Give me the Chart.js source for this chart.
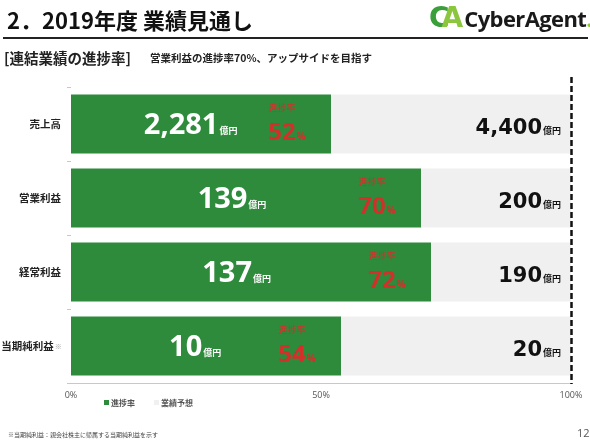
<!DOCTYPE html>
<html>
<head>
<meta charset="utf-8">
<script src="https://cdn.jsdelivr.net/npm/chart.js@4/dist/chart.umd.min.js"></script>
<style>
body { margin: 0; background: #fff; font-family: "Noto Sans CJK JP", "Noto Sans", sans-serif; }
#page { position: relative; width: 590px; height: 441px; overflow: hidden; background: #fff; }
#chartBox { position: absolute; left: 0; top: 0; width: 590px; height: 441px; }
.title { position: absolute; left: 7px; top: 3px; font-size: 22px; font-weight: bold; color: #111; white-space: nowrap; }
.rule { position: absolute; left: 3px; top: 37px; width: 585px; height: 2px; background: #222; }
.sub1 { position: absolute; left: 4px; top: 47px; font-size: 14.5px; font-weight: bold; color: #222; white-space: nowrap; }
.sub2 { position: absolute; left: 150px; top: 50px; font-size: 10.5px; font-weight: bold; color: #222; white-space: nowrap; }
.logo { position: absolute; left: 429px; top: 1px; white-space: nowrap; }
.logo .c { font-family: "DejaVu Sans"; font-weight: bold; font-size: 28px; color: #3a9e3a; letter-spacing: -8px; }
.logo .a { font-family: "DejaVu Sans"; font-weight: bold; font-size: 28px; color: #8cc63f; }
.logo .t { font-family: "Open Sans", sans-serif; font-weight: bold; font-size: 22px; color: #1a1a1a; letter-spacing: -0.6px; margin-left: 1px; }
.logo .d { font-family: "Open Sans", sans-serif; font-weight: bold; font-size: 22px; color: #8cc63f; }
.legend { position: absolute; top: 397px; font-size: 8px; font-weight: bold; color: #555; white-space: nowrap; }
.legend i { display: inline-block; width: 5px; height: 5px; margin-right: 2px; vertical-align: 1px; }
.foot { position: absolute; left: 8px; top: 430px; font-size: 6px; color: #444; white-space: nowrap; }
.pno { position: absolute; left: 577px; top: 425px; font-size: 11px; color: #555; font-family: "Open Sans", sans-serif; }
</style>
</head>
<body>
<div id="page">
  <div id="chartBox"><canvas id="progressChart"></canvas></div>
  <div class="title">2．2019年度 業績見通し</div>
  <div class="logo"><span class="c">C</span><span class="a">A</span><span class="t">CyberAgent</span><span class="d">.</span></div>
  <div class="rule"></div>
  <div class="sub1">[連結業績の進捗率]</div>
  <div class="sub2">営業利益の進捗率70%、アップサイドを目指す</div>
  <div class="legend" style="left:104px"><i style="background:#2e8b3c"></i>進捗率</div>
  <div class="legend" style="left:154px"><i style="background:#f0f0f0"></i>業績予想</div>
  <div class="foot">※当期純利益：親会社株主に帰属する当期純利益を示す</div>
  <div class="pno">12</div>
</div>
<script>
// 連結業績 (億円)
const categories = ['売上高', '営業利益', '経常利益', '当期純利益※'];
const actualValues = [2281, 139, 137, 10];
const forecastValues = [4400, 200, 190, 20];
const progressRates = [52, 70, 72, 54];
const remainRates = progressRates.map(r => 100 - r);
const xTicks = [0, 50, 100];

const GREEN = '#2e8b3c';
const GRAY = '#f0f0f0';
const RED = '#d3302a';
const JP = '"Noto Sans CJK JP", sans-serif';
const WHITE_FONT = 'bold 29px "Open Sans", sans-serif';
const RED_FONT = 'bold 24px "Open Sans", sans-serif';
const BLACK_FONT = 'bold 21px "DejaVu Sans", sans-serif';
const NOTE_GAP = '   ';

function fmt(v) {
    return v.toLocaleString('en-US');
}

// big number + small unit on one baseline
function drawPair(ctx, big, bigFont, small, smallFont, x, y, color, align) {
    ctx.font = bigFont;
    const wBig = ctx.measureText(big).width;
    ctx.font = smallFont;
    const wSmall = ctx.measureText(small).width;
    const total = wBig + 1 + wSmall;
    let left = x;
    if (align === 'center') left = x - total / 2;
    if (align === 'right') left = x - total;
    ctx.fillStyle = color;
    ctx.textAlign = 'left';
    ctx.textBaseline = 'alphabetic';
    ctx.font = bigFont;
    ctx.fillText(big, left, y);
    ctx.font = smallFont;
    ctx.fillText(small, left + wBig + 1, y);
    return { left, wBig };
}

const barLabels = {
    id: 'barLabels',
    afterDatasetsDraw(chart) {
        const ctx = chart.ctx;
        const xs = chart.scales.x;
        const start = xs.getPixelForValue(0);
        const meta = chart.getDatasetMeta(0);
        ctx.save();
        meta.data.forEach((bar, i) => {
            const y = bar.y;
            const end = bar.x;
            // 実績
            drawPair(ctx, fmt(actualValues[i]), WHITE_FONT, '億円', 'bold 9px ' + JP,
                start + (end - start) * 0.46, y + 10, '#fff', 'center');
            // 進捗率
            const r = drawPair(ctx, String(progressRates[i]), RED_FONT, '%', 'bold 10px "Open Sans", sans-serif',
                end - 44, y + 16, RED, 'center');
            ctx.font = '9px ' + JP;
            ctx.textAlign = 'center';
            ctx.textBaseline = 'middle';
            ctx.fillText('進捗率', r.left + r.wBig / 2, y - 16);
            // 業績予想
            drawPair(ctx, fmt(forecastValues[i]), BLACK_FONT, '億円', 'bold 9px ' + JP,
                561, y + 10, '#111', 'right');
        });
        ctx.restore();
    },
    afterDraw(chart) {
        const ctx = chart.ctx;
        const ys = chart.scales.y;
        const x100 = Math.round(chart.scales.x.getPixelForValue(100)) + 0.5;
        ctx.save();
        // 100%ライン
        ctx.strokeStyle = '#111';
        ctx.lineWidth = 2.5;
        ctx.setLineDash([6, 3]);
        ctx.beginPath();
        ctx.moveTo(x100, 77);
        ctx.lineTo(x100, chart.chartArea.bottom + 1);
        ctx.stroke();
        // ※ mark after the category label
        ctx.setLineDash([]);
        ctx.fillStyle = '#999';
        ctx.textAlign = 'left';
        ctx.textBaseline = 'middle';
        categories.forEach((c, i) => {
            if (!c.includes('※')) return;
            const labelRight = ys.right - 4 - 6;
            ctx.font = 'bold 10.5px ' + JP;
            const gap = ctx.measureText(NOTE_GAP).width;
            ctx.font = '7px ' + JP;
            ctx.fillText('※', labelRight - gap + 1, ys.getPixelForValue(i));
        });
        ctx.restore();
    }
};

new Chart(document.getElementById('progressChart'), {
    type: 'bar',
    data: {
        labels: categories,
        datasets: [
            {
                label: '進捗率',
                data: progressRates,
                backgroundColor: GREEN,
                borderWidth: 0,
                categoryPercentage: 0.8,
                barPercentage: 1.0
            },
            {
                label: '業績予想',
                data: remainRates,
                backgroundColor: GRAY,
                borderWidth: 0,
                categoryPercentage: 0.8,
                barPercentage: 1.0
            }
        ]
    },
    options: {
        indexAxis: 'y',
        responsive: true,
        maintainAspectRatio: false,
        animation: false,
        layout: { padding: { top: 87, left: 0, right: 19, bottom: 32 } },
        scales: {
            x: {
                stacked: true,
                min: 0,
                max: 100,
                afterBuildTicks: axis => { axis.ticks = xTicks.map(v => ({ value: v })); },
                afterFit: axis => { axis.height = 26; },
                grid: { display: false, drawTicks: false, tickLength: 0 },
                border: { display: true, color: '#c8c8c8', width: 1 },
                ticks: {
                    color: '#555',
                    padding: 7,
                    font: { size: 9, family: '"Open Sans", sans-serif' },
                    callback: v => v + '%'
                }
            },
            y: {
                stacked: true,
                afterFit: axis => { axis.width = 71; },
                grid: { display: true, drawOnChartArea: false, tickLength: 4, color: '#c8c8c8', offset: true },
                border: { display: false },
                ticks: {
                    color: '#222',
                    padding: 6,
                    font: { size: 10.5, weight: 'bold', family: JP },
                    callback: function (v) {
                        return this.getLabelForValue(v).replace('※', NOTE_GAP);
                    }
                }
            }
        },
        plugins: {
            legend: { display: false },
            tooltip: { enabled: false }
        }
    },
    plugins: [barLabels]
});
</script>
</body>
</html>
